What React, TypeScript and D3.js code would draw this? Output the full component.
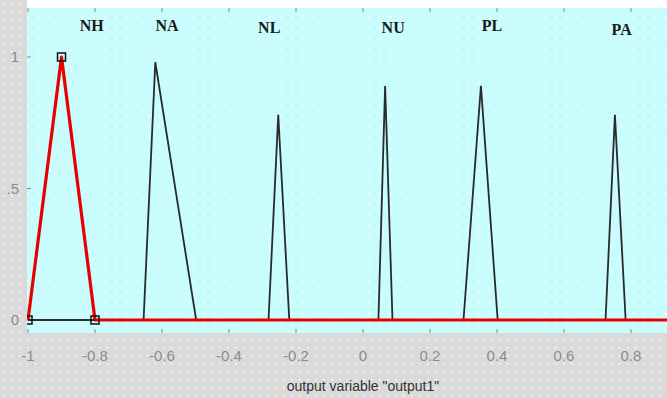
import { useRef, useEffect } from 'react';
import * as d3 from 'd3';

// membership functions (triangular)
const mfNames = ['NH', 'NA', 'NL', 'NU', 'PL', 'PA'];
const mfLeft = [-1, -0.655, -0.282, 0.046, 0.3, 0.724];
const mfPeak = [-0.9, -0.62, -0.253, 0.066, 0.352, 0.752];
const mfRight = [-0.8, -0.498, -0.22, 0.088, 0.402, 0.784];
const mfHeight = [1, 0.98, 0.78, 0.89, 0.89, 0.78];
const labelX = [-0.81, -0.585, -0.28, 0.09, 0.385, 0.772];
const labelY = [1.1, 1.1, 1.09, 1.09, 1.1, 1.085];

const xTicks = [-1, -0.8, -0.6, -0.4, -0.2, 0, 0.2, 0.4, 0.6, 0.8];
const xTickLabels = ['-1', '-0.8', '-0.6', '-0.4', '-0.2', '0', '0.2', '0.4', '0.6', '0.8'];
const yTicks = [0, 0.5, 1];
const yTickLabels = ['0', '.5', '1'];

const W = 667;
const H = 398;

export default function App() {
  const svgRef = useRef<SVGSVGElement>(null);

  useEffect(() => {
    const svg = d3.select(svgRef.current);
    svg.selectAll('*').remove();
    svg.attr('width', W).attr('height', H);

    const plot = { left: 27, top: 8, right: W, bottom: 333 };

    const x = d3.scaleLinear().domain([-1, 1]).range([28, 698]);
    const y = d3.scaleLinear().domain([0, 1]).range([320, 57]);

    const defs = svg.append('defs');
    const grayPat = defs.append('pattern')
      .attr('id', 'grayDots').attr('patternUnits', 'userSpaceOnUse')
      .attr('width', 8).attr('height', 8);
    grayPat.append('rect').attr('width', 8).attr('height', 8).attr('fill', '#dadada');
    grayPat.append('rect').attr('x', 3).attr('y', 3).attr('width', 1.5).attr('height', 1.5).attr('fill', '#ffffff');

    const cyanPat = defs.append('pattern')
      .attr('id', 'cyanDots').attr('patternUnits', 'userSpaceOnUse')
      .attr('width', 11).attr('height', 11);
    cyanPat.append('rect').attr('width', 11).attr('height', 11).attr('fill', '#c9fcfc');
    cyanPat.append('rect').attr('x', 5).attr('y', 5).attr('width', 1.6).attr('height', 1.6).attr('fill', '#ffffff');

    defs.append('clipPath').attr('id', 'plotClip')
      .append('rect')
      .attr('x', plot.left).attr('y', plot.top)
      .attr('width', plot.right - plot.left).attr('height', plot.bottom - plot.top);

    // backgrounds
    svg.append('rect').attr('width', W).attr('height', H).attr('fill', 'url(#grayDots)');
    svg.append('rect').attr('x', plot.left).attr('y', 0)
      .attr('width', W - plot.left).attr('height', plot.top).attr('fill', '#ffffff');
    svg.append('rect')
      .attr('x', plot.left).attr('y', plot.top)
      .attr('width', plot.right - plot.left).attr('height', plot.bottom - plot.top)
      .attr('fill', 'url(#cyanDots)');

    // ticks
    const tickG = svg.append('g').attr('stroke', '#8a8a8a').attr('stroke-width', 1);
    xTicks.forEach((t) => {
      tickG.append('line').attr('x1', x(t)).attr('x2', x(t))
        .attr('y1', plot.bottom - 4).attr('y2', plot.bottom);
      tickG.append('line').attr('x1', x(t)).attr('x2', x(t))
        .attr('y1', plot.top).attr('y2', plot.top + 4);
    });
    yTicks.forEach((t) => {
      tickG.append('line').attr('x1', plot.left).attr('x2', plot.left + 4)
        .attr('y1', y(t)).attr('y2', y(t));
    });

    // tick labels
    svg.append('g').selectAll('text').data(xTicks).join('text')
      .attr('x', (d) => x(d)).attr('y', 361)
      .attr('text-anchor', 'middle')
      .attr('font-family', 'Liberation Sans, Arial, sans-serif')
      .attr('font-size', 15).attr('fill', '#8c8c8c')
      .text((_d, i) => xTickLabels[i]);

    svg.append('g').selectAll('text').data(yTicks).join('text')
      .attr('x', 19).attr('y', (d) => y(d) + 5)
      .attr('text-anchor', 'end')
      .attr('font-family', 'Liberation Sans, Arial, sans-serif')
      .attr('font-size', 15).attr('fill', '#8c8c8c')
      .text((_d, i) => yTickLabels[i]);

    svg.append('text')
      .attr('x', x(0)).attr('y', 391)
      .attr('text-anchor', 'middle')
      .attr('font-family', 'Liberation Sans, Arial, sans-serif')
      .attr('font-size', 14).attr('fill', '#333333')
      .text('output variable "output1"');

    const chart = svg.append('g').attr('clip-path', 'url(#plotClip)');

    const line = d3.line<[number, number]>().x((d) => x(d[0])).y((d) => y(d[1]));

    // black zero baseline for the unselected functions
    chart.append('path')
      .attr('d', line([[-1, 0], [1, 0]]))
      .attr('fill', 'none').attr('stroke', '#222').attr('stroke-width', 1.5);

    // unselected MFs in black
    mfNames.forEach((_n, i) => {
      if (i === 0) return;
      chart.append('path')
        .attr('d', line([[mfLeft[i], 0], [mfPeak[i], mfHeight[i]], [mfRight[i], 0]]))
        .attr('fill', 'none').attr('stroke', '#2a2a2a').attr('stroke-width', 1.8);
    });

    // selected MF (NH) in red, including its zero tail
    chart.append('path')
      .attr('d', line([[mfLeft[0], 0], [mfPeak[0], mfHeight[0]], [mfRight[0], 0], [1, 0]]))
      .attr('fill', 'none').attr('stroke', '#e80000').attr('stroke-width', 3.2)
      .attr('stroke-linejoin', 'round');

    // black baseline from -1 to -0.8 drawn over
    chart.append('path')
      .attr('d', line([[mfLeft[0], 0], [mfRight[0], 0]]))
      .attr('fill', 'none').attr('stroke', '#222').attr('stroke-width', 1.5);

    // handle markers
    const handles: [number, number][] = [[mfLeft[0], 0], [mfPeak[0], mfHeight[0]], [mfRight[0], 0]];
    chart.append('g').selectAll('rect').data(handles).join('rect')
      .attr('x', (d) => x(d[0]) - 4).attr('y', (d) => y(d[1]) - 4)
      .attr('width', 8).attr('height', 8)
      .attr('fill', 'none').attr('stroke', '#111').attr('stroke-width', 1.5);

    // MF labels
    chart.append('g').selectAll('text').data(mfNames).join('text')
      .attr('x', (_d, i) => x(labelX[i])).attr('y', (_d, i) => y(labelY[i]))
      .attr('text-anchor', 'middle')
      .attr('font-family', 'Liberation Serif, Times New Roman, serif')
      .attr('font-size', 16).attr('font-weight', 'bold').attr('fill', '#1a1a1a')
      .text((d) => d);
  }, []);

  return (
    <div style={{ position: 'absolute', left: 0, top: 0 }}>
      <svg ref={svgRef} style={{ display: 'block' }} />
    </div>
  );
}
